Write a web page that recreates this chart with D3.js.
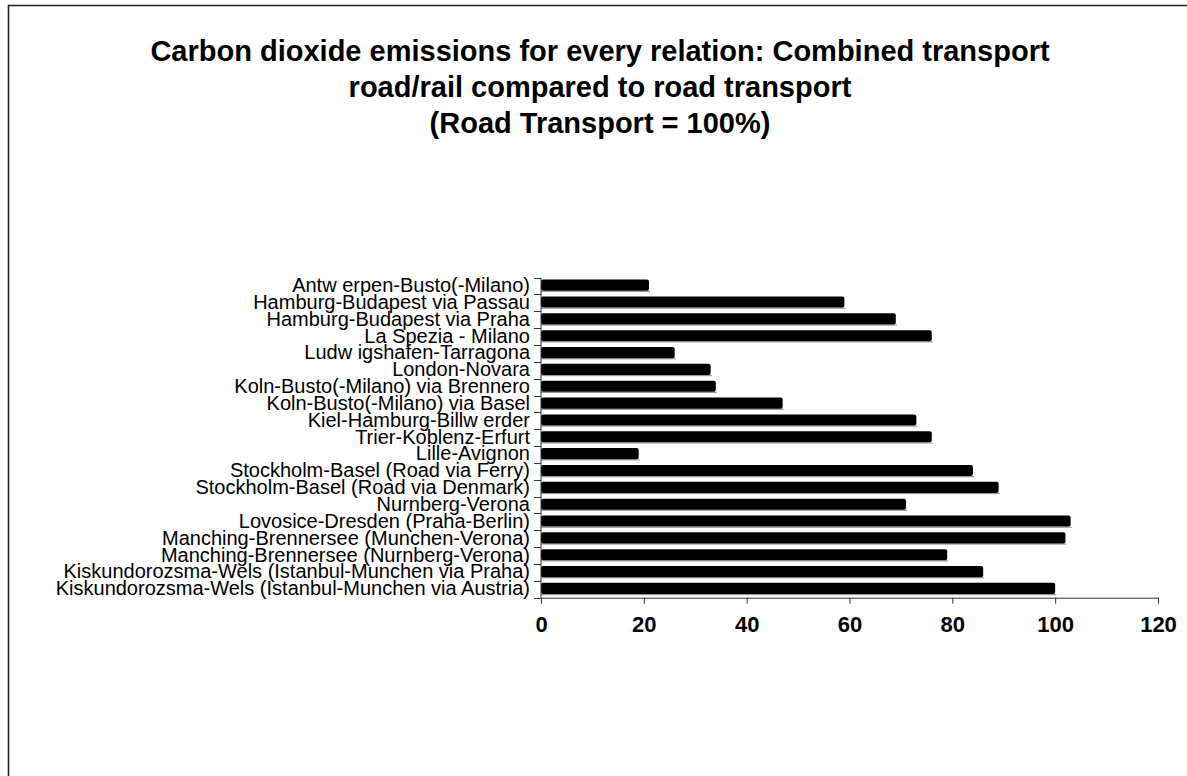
<!DOCTYPE html>
<html>
<head>
<meta charset="utf-8">
<script src="https://cdn.jsdelivr.net/npm/d3@7"></script>
<style>
  html, body { margin: 0; padding: 0; background: #fff; }
  svg { display: block; }
</style>
</head>
<body>
<svg id="chart" width="1187" height="776"></svg>
<script>
// ---- Data (top to bottom as displayed) ----
const categories = [
  "Antw erpen-Busto(-Milano)",
  "Hamburg-Budapest via Passau",
  "Hamburg-Budapest via Praha",
  "La Spezia - Milano",
  "Ludw igshafen-Tarragona",
  "London-Novara",
  "Koln-Busto(-Milano) via Brennero",
  "Koln-Busto(-Milano) via Basel",
  "Kiel-Hamburg-Billw erder",
  "Trier-Koblenz-Erfurt",
  "Lille-Avignon",
  "Stockholm-Basel (Road via Ferry)",
  "Stockholm-Basel (Road via Denmark)",
  "Nurnberg-Verona",
  "Lovosice-Dresden (Praha-Berlin)",
  "Manching-Brennersee (Munchen-Verona)",
  "Manching-Brennersee (Nurnberg-Verona)",
  "Kiskundorozsma-Wels (Istanbul-Munchen via Praha)",
  "Kiskundorozsma-Wels (Istanbul-Munchen via Austria)"
];
const values = [21, 59, 69, 76, 26, 33, 34, 47, 73, 76, 19, 84, 89, 71, 103, 102, 79, 86, 100];
const xTicks = [0, 20, 40, 60, 80, 100, 120];
const titleLines = [
  "Carbon dioxide emissions for every relation: Combined transport",
  "road/rail compared to road transport",
  "(Road Transport = 100%)"
];

// ---- Layout ----
const svg = d3.select("#chart");
const W = 1187, H = 776;
const plot = { left: 541, right: 1158, top: 277.6, bottom: 597.7 };

// frame (only top and left edges visible in the reference)
svg.append("path")
  .attr("d", `M8.5,${H} L8.5,5.5 L${W},5.5`)
  .attr("fill", "none")
  .attr("stroke", "#222")
  .attr("stroke-width", 1.6);

// title
const title = svg.append("text")
  .attr("text-anchor", "middle")
  .attr("font-family", "'Liberation Sans', Arial, sans-serif")
  .attr("font-weight", "bold")
  .attr("font-size", 29)
  .attr("fill", "#000");
titleLines.forEach((t, i) => {
  title.append("tspan").attr("x", 600).attr("y", 61 + i * 36).text(t);
});

// scales
const x = d3.scaleLinear().domain([0, 120]).range([plot.left, plot.right]);
const y = d3.scaleBand().domain(categories).range([plot.top, plot.bottom]).padding(0);
const bw = y.bandwidth();

const data = categories.map((c, i) => ({ c, v: values[i] }));

// bar shadows
svg.append("g").selectAll("rect.shadow")
  .data(data).join("rect")
  .attr("class", "shadow")
  .attr("x", x(0))
  .attr("y", d => y(d.c) + bw * 0.12 + bw * 0.66)
  .attr("width", d => x(d.v) - x(0) + 1)
  .attr("height", 1.2)
  .attr("fill", "#9a9a9a");

// bars
svg.append("g").selectAll("rect.bar")
  .data(data).join("rect")
  .attr("class", "bar")
  .attr("x", x(0))
  .attr("y", d => y(d.c) + bw * 0.12)
  .attr("width", d => x(d.v) - x(0))
  .attr("height", bw * 0.66)
  .attr("rx", 2).attr("ry", 2)
  .attr("fill", "#000");

// y axis (line + ticks at category boundaries, pointing left)
const yAxisG = svg.append("g");
yAxisG.append("line")
  .attr("x1", plot.left).attr("x2", plot.left)
  .attr("y1", plot.top).attr("y2", plot.bottom)
  .attr("stroke", "#333").attr("stroke-width", 1);
const boundaries = categories.map(c => y(c)).concat([plot.bottom]);
yAxisG.selectAll("line.tk").data(boundaries).join("line")
  .attr("class", "tk")
  .attr("x1", plot.left - 7).attr("x2", plot.left)
  .attr("y1", d => Math.round(d) + 0.5).attr("y2", d => Math.round(d) + 0.5)
  .attr("stroke", "#333").attr("stroke-width", 1);

// category labels
yAxisG.selectAll("text").data(data).join("text")
  .attr("x", plot.left - 11)
  .attr("y", d => y(d.c) + bw * 0.12 + bw * 0.33)
  .attr("dy", "0.34em")
  .attr("text-anchor", "end")
  .attr("font-family", "'Liberation Sans', Arial, sans-serif")
  .attr("font-size", 20)
  .attr("fill", "#000")
  .text(d => d.c);

// x axis
const xAxis = d3.axisBottom(x).tickValues(xTicks).tickSize(6).tickSizeOuter(0).tickFormat(d3.format("d"));
const xg = svg.append("g")
  .attr("transform", `translate(0,${plot.bottom})`)
  .call(xAxis);
xg.select(".domain").attr("stroke", "#333");
xg.selectAll(".tick line").attr("stroke", "#333");
xg.selectAll(".tick text")
  .attr("y", 19)
  .attr("dy", "0.71em")
  .attr("font-family", "'Liberation Sans', Arial, sans-serif")
  .attr("font-weight", "bold")
  .attr("font-size", 22)
  .attr("fill", "#000");
</script>
</body>
</html>
